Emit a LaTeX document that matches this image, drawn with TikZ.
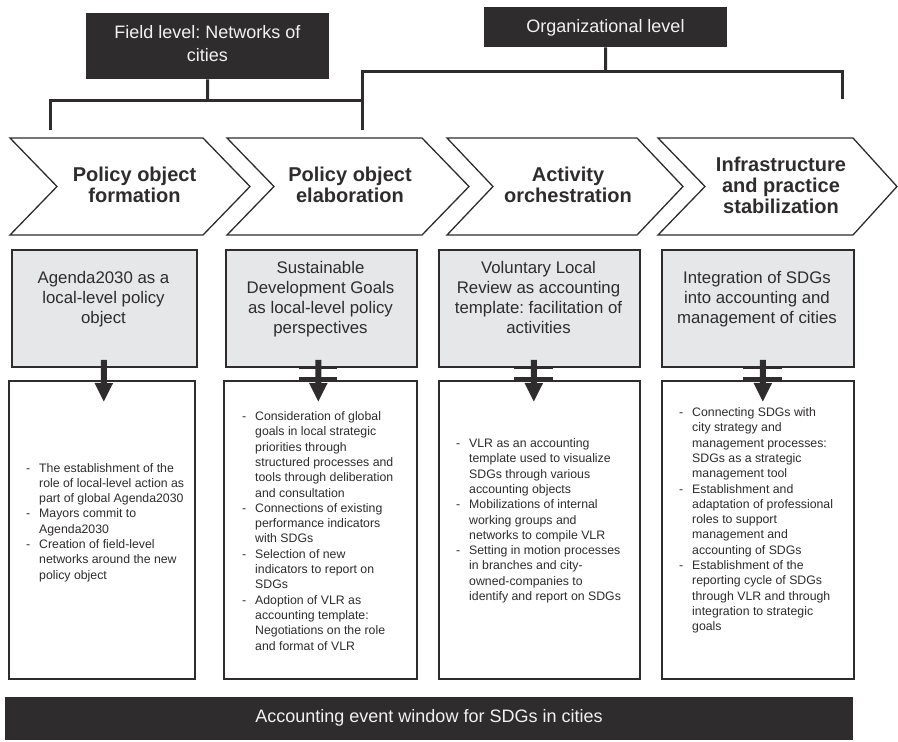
\documentclass[tikz,border=0pt]{standalone}
\usepackage{fontspec}
\setmainfont{Liberation Sans}
\usetikzlibrary{arrows.meta}
\definecolor{dk}{RGB}{46,44,45}
\definecolor{lg}{RGB}{230,231,232}
\definecolor{tw}{RGB}{242,242,242}
\newcommand{\bul}[1]{\begin{tabular}[t]{@{}p{13pt}@{}l@{}}#1\end{tabular}}
\newcommand{\ctab}[1]{\begin{tabular}[t]{@{}c@{}}#1\end{tabular}}
\frenchspacing
\begin{document}
\begin{tikzpicture}[x=1pt,y=-1pt,
 titlebox/.style={fill=dk, draw=none, anchor=north west, inner sep=0},
 titletext/.style={text=tw, font=\fontsize{18}{23.4}\selectfont, anchor=base, inner sep=0},
 bracket/.style={draw=dk, line width=3pt, line join=miter},
 chev/.style={draw=dk, line width=1.3pt, fill=white, line join=miter},
 chevtext/.style={text=dk, font=\bfseries\fontsize{20}{21}\selectfont, anchor=base, inner sep=0},
 graybox/.style={fill=lg, draw=dk, line width=1.8pt, anchor=north west, inner sep=0, minimum height=117pt},
 graytext/.style={text=dk, font=\fontsize{16.8}{20}\selectfont, anchor=base, inner sep=0},
 whitebox/.style={fill=white, draw=dk, line width=1.6pt, anchor=north west, inner sep=0, minimum height=298pt},
 bullettext/.style={text=dk, font=\fontsize{12.3}{15.3}\selectfont, anchor=base west, inner sep=0},
 downarrow/.style={draw=dk, line width=6pt, -{Triangle[length=19pt,width=17pt]}},
 crossbar/.style={draw=dk, line width=3pt},
 eventbar/.style={fill=dk, draw=none, anchor=north west, inner sep=0}]
\useasboundingbox (0,0) rectangle (898,742);

% title boxes
\node[titlebox, minimum width=243pt, minimum height=66pt] (fl) at (86,13) {};
\node[titletext] (flt) at (207.5,38.3) {\ctab{Field level: Networks of\\cities}};
\node[titlebox, minimum width=243pt, minimum height=40pt] (ol) at (484,7) {};
\node[titletext] (olt) at (605.5,32.3) {Organizational level};

% brackets
\coordinate (fm) at (207.5,100);
\coordinate (fa) at (50,130);
\coordinate (fb) at (362,130);
\draw[bracket] (fl.south) -- (fm);
\draw[bracket] (fa) |- (fm) -| (fb);
\coordinate (om) at (605.5,71);
\coordinate (oa) at (362,100);
\coordinate (ob) at (842,99);
\draw[bracket] (ol.south) -- (om);
\draw[bracket] (oa) |- (om) -| (ob);

% chevrons
\draw[chev] (10,138) -- (203,138) -- (250,186.5) -- (203,235) -- (10,235) -- (57,186.5) -- cycle;
\draw[chev] (227,138) -- (422,138) -- (469,186.5) -- (422,235) -- (227,235) -- (274,186.5) -- cycle;
\draw[chev] (447,138) -- (637,138) -- (683,186.5) -- (637,235) -- (447,235) -- (493,186.5) -- cycle;
\draw[chev] (658,138) -- (853,138) -- (897,186.5) -- (853,235) -- (658,235) -- (705,186.5) -- cycle;
\node[chevtext] (c1) at (134.5,181.7) {\ctab{Policy object\\formation}};
\node[chevtext] (c2) at (350,181.7) {\ctab{Policy object\\elaboration}};
\node[chevtext] (c3) at (568,181.7) {\ctab{Activity\\orchestration}};
\node[chevtext] (c4) at (781,171.7) {\ctab{Infrastructure\\and practice\\stabilization}};

% gray boxes
\node[graybox, minimum width=185pt] (g1) at (11,249) {};
\node[graybox, minimum width=191pt] (g2) at (225,249) {};
\node[graybox, minimum width=201pt] (g3) at (438,249) {};
\node[graybox, minimum width=192pt] (g4) at (661,249) {};
\node[graytext] (g1t) at (103.5,283.3) {\ctab{Agenda2030 as a\\local-level policy\\object}};
\node[graytext] (g2t) at (320.5,273.3) {\ctab{Sustainable\\Development Goals\\as local-level policy\\perspectives}};
\node[graytext] (g3t) at (538.5,273.3) {\ctab{Voluntary Local\\Review as accounting\\template: facilitation of\\activities}};
\node[graytext] (g4t) at (757,283.3) {\ctab{Integration of SDGs\\into accounting and\\management of cities}};

% white boxes
\node[whitebox, minimum width=186pt] (w1) at (8,380) {};
\node[whitebox, minimum width=193pt] (w2) at (223,380) {};
\node[whitebox, minimum width=201pt] (w3) at (438,380) {};
\node[whitebox, minimum width=192pt] (w4) at (661,380) {};

\node[bullettext] (w1t) at (26,472) {\bul{-&The establishment of the\\
&role of local-level action as\\
&part of global Agenda2030\\
-&Mayors commit to\\
&Agenda2030\\
-&Creation of field-level\\
&networks around the new\\
&policy object}};
\node[bullettext] (w2t) at (242,420.5) {\bul{-&Consideration of global\\
&goals in local strategic\\
&priorities through\\
&structured processes and\\
&tools through deliberation\\
&and consultation\\
-&Connections of existing\\
&performance indicators\\
&with SDGs\\
-&Selection of new\\
&indicators to report on\\
&SDGs\\
-&Adoption of VLR as\\
&accounting template:\\
&Negotiations on the role\\
&and format of VLR}};
\node[bullettext] (w3t) at (456,447.5) {\bul{-&VLR as an accounting\\
&template used to visualize\\
&SDGs through various\\
&accounting objects\\
-&Mobilizations of internal\\
&working groups and\\
&networks to compile VLR\\
-&Setting in motion processes\\
&in branches and city-\\
&owned-companies to\\
&identify and report on SDGs}};
\node[bullettext] (w4t) at (679,416.5) {\bul{-&Connecting SDGs with\\
&city strategy and\\
&management processes:\\
&SDGs as a strategic\\
&management tool\\
-&Establishment and\\
&adaptation of professional\\
&roles to support\\
&management and\\
&accounting of SDGs\\
-&Establishment of the\\
&reporting cycle of SDGs\\
&through VLR and through\\
&integration to strategic\\
&goals}};

% crossbars
\draw[crossbar] ([xshift=-22pt]g2.south) -- ([xshift=16pt]g2.south);
\draw[crossbar] ([xshift=-21pt,yshift=1.5pt]w2.north) -- ([xshift=17pt,yshift=1.5pt]w2.north);
\draw[crossbar] ([xshift=-25pt]g3.south) -- ([xshift=14pt]g3.south);
\draw[crossbar] ([xshift=-25pt,yshift=1.5pt]w3.north) -- ([xshift=14pt,yshift=1.5pt]w3.north);
\draw[crossbar] ([xshift=-15pt]g4.south) -- ([xshift=24pt]g4.south);
\draw[crossbar] ([xshift=-15pt,yshift=1.5pt]w4.north) -- ([xshift=24pt,yshift=1.5pt]w4.north);

% arrows
\draw[downarrow] ([xshift=-0.5pt,yshift=8pt]g1.south) -- ([xshift=2pt,yshift=-22pt]w1.north);
\draw[downarrow] ([xshift=-3pt,yshift=8pt]g2.south) -- ([xshift=-2pt,yshift=-22pt]w2.north);
\draw[downarrow] ([xshift=-5.5pt,yshift=8pt]g3.south) -- ([xshift=-5.5pt,yshift=-22pt]w3.north);
\draw[downarrow] ([xshift=5pt,yshift=8pt]g4.south) -- ([xshift=5pt,yshift=-22pt]w4.north);

% event bar
\node[eventbar, minimum width=848pt, minimum height=43pt] (ev) at (5,697) {};
\node[titletext] (evt) at (429,722.7) {Accounting event window for SDGs in cities};
\end{tikzpicture}
\end{document}
